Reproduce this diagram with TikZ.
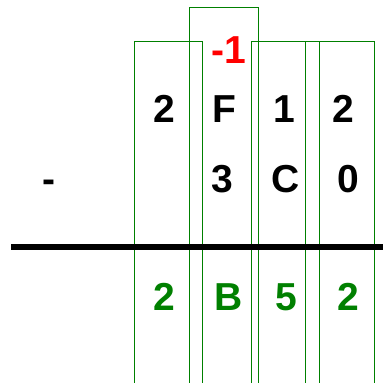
\documentclass[tikz,border=0pt]{standalone}
\usepackage{fontspec}
\setmainfont{Liberation Sans}
\definecolor{boxgreen}{RGB}{0,128,0}
\definecolor{txtred}{RGB}{255,0,0}
\begin{document}
\begin{tikzpicture}[x=1pt,y=-1pt,
  colbox/.style={draw=boxgreen,line width=0.9pt},
  digit/.style={anchor=base,inner sep=0pt,font=\fontsize{39}{39}\selectfont\bfseries},
  res/.style={digit,text=boxgreen},
  borrow/.style={digit,text=txtred}]
\path[use as bounding box] (0,0) rectangle (383,383);
% column boxes
\draw[colbox] (134.3,390) -- (134.3,41.7) -- (202.7,41.7) -- (202.7,390);
\draw[colbox] (189,390) -- (189,7.3) -- (258,7.3) -- (258,390);
\draw[colbox] (251,390) -- (251,41.7) -- (319.5,41.7) -- (319.5,390);
\draw[colbox] (305.7,390) -- (305.7,41.7) -- (374.3,41.7) -- (374.3,390);
% borrow
\node[borrow] (b) at (229,63) {-1};
% first row
\node[digit] (a1) at (164,122) {2};
\node[digit] (a2) at (224,122) {F};
\node[digit] (a3) at (284,122) {1};
\node[digit] (a4) at (343.5,122) {2};
% second row
\node[digit] (m) at (48.5,192) {-};
\node[digit] (s2) at (222.5,192) {3};
\node[digit] (s3) at (285.5,192) {C};
\node[digit] (s4) at (348,192) {0};
% rule
\coordinate (l1) at (11,246.7);
\coordinate (l2) at (390,246.7);
\draw[line width=6pt] (l1) -- (l2);
% result
\node[res] (r1) at (164,310) {2};
\node[res] (r2) at (229,310) {B};
\node[res] (r3) at (286.3,310) {5};
\node[res] (r4) at (348,310) {2};
\end{tikzpicture}
\end{document}
